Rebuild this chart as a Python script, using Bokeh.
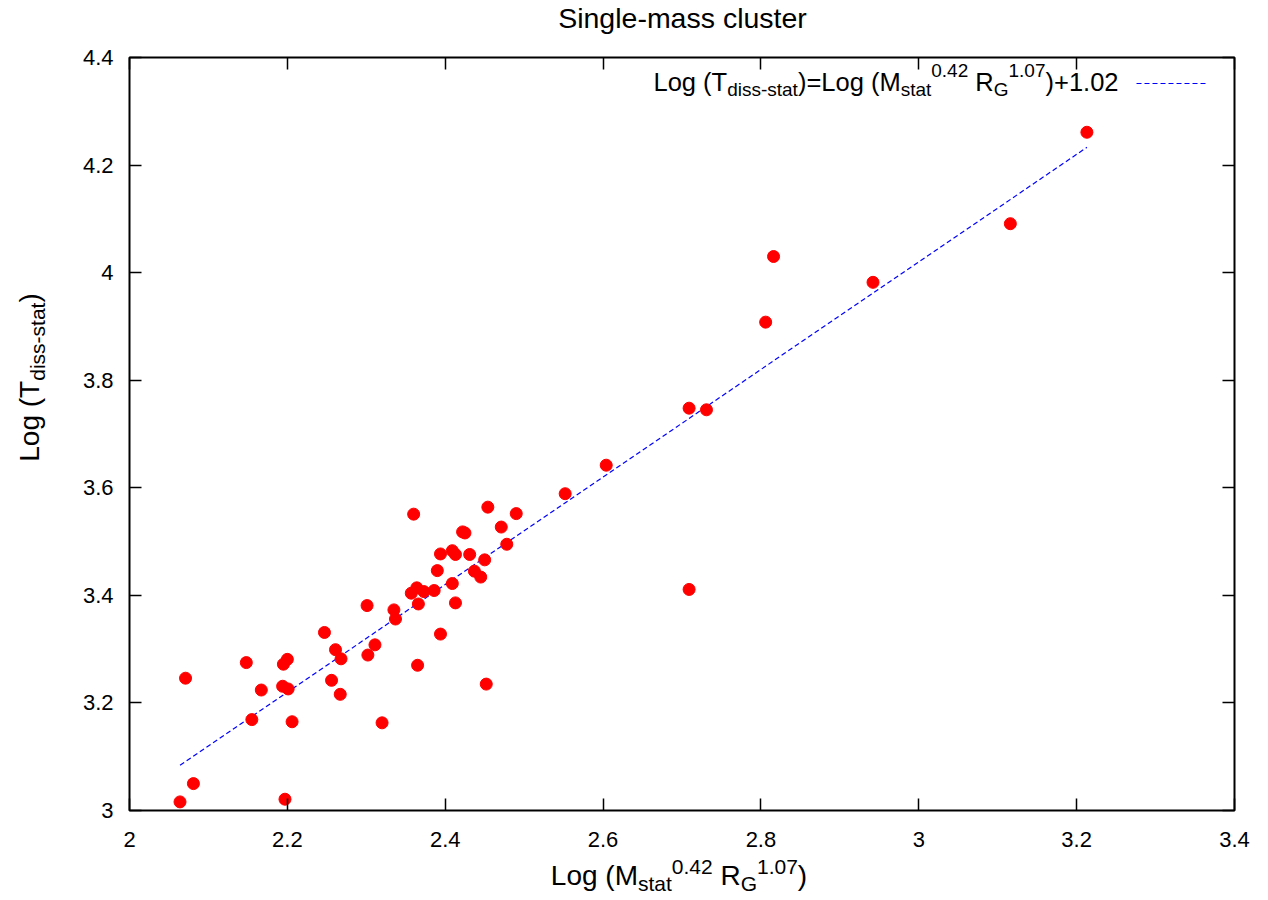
import math
from bokeh.plotting import figure
from bokeh.models import Range1d, LinearAxis, FixedTicker, CustomJSTickFormatter, Label, Arrow
from bokeh.layouts import column, row
from bokeh.embed import file_html
from bokeh.resources import INLINE

# ---- data ----
x_vals = [2.071, 2.148, 2.195, 2.200, 2.167, 2.194, 2.201, 2.155, 2.206, 2.247,
          2.261, 2.268, 2.256, 2.267, 2.302, 2.311, 2.320, 2.365, 2.337, 2.081,
          2.064, 2.197, 2.360, 2.454, 2.490, 2.471, 2.422, 2.425, 2.478, 2.394,
          2.409, 2.413, 2.431, 2.450, 2.390, 2.437, 2.445, 2.409, 2.357, 2.364,
          2.373, 2.386, 2.366, 2.413, 2.301, 2.335, 2.394, 2.452, 2.709, 2.731,
          2.604, 2.552, 2.709, 2.816, 2.806, 2.942, 3.116, 3.213]
y_vals = [3.246, 3.275, 3.272, 3.281, 3.224, 3.231, 3.226, 3.169, 3.165, 3.331,
          3.299, 3.282, 3.242, 3.216, 3.289, 3.308, 3.163, 3.270, 3.356, 3.050,
          3.016, 3.021, 3.551, 3.564, 3.552, 3.527, 3.518, 3.516, 3.495, 3.477,
          3.483, 3.476, 3.476, 3.466, 3.446, 3.445, 3.434, 3.422, 3.404, 3.414,
          3.407, 3.409, 3.384, 3.386, 3.381, 3.373, 3.328, 3.235, 3.748, 3.745,
          3.642, 3.589, 3.411, 4.030, 3.908, 3.982, 4.091, 4.261]
fit_intercept = 1.02
x_ticks = [2.0, 2.2, 2.4, 2.6, 2.8, 3.0, 3.2, 3.4]
y_ticks = [3.0, 3.2, 3.4, 3.6, 3.8, 4.0, 4.2, 4.4]

fit_x = [min(x_vals), max(x_vals)]
fit_y = [v + fit_intercept for v in fit_x]

FONT = "Liberation Sans"
TOTAL_W = 1268
TITLE_H = 40
YLAB_W = 59
XLAB_H = 45
FW, FH = 1105, 753
BL, BR, BT, BB = 70, 34, 17, 45
MAIN_H = BT + FH + BB

p = figure(frame_width=FW, frame_height=FH,
           min_border_left=BL, min_border_right=BR,
           min_border_top=BT, min_border_bottom=BB,
           x_range=Range1d(2.0, 3.4), y_range=Range1d(3.0, 4.4),
           output_backend="svg", toolbar_location=None,
           x_axis_location=None, y_axis_location=None)
p.background_fill_color = "white"
p.border_fill_color = "white"
p.grid.visible = False
p.outline_line_color = "black"
p.outline_line_width = 2

fmt = CustomJSTickFormatter(code="return String(Math.round(tick*10)/10);")
blank = CustomJSTickFormatter(code="return '';")

def style_axis(ax, ticks, formatter, standoff):
    ax.ticker = FixedTicker(ticks=ticks)
    ax.formatter = formatter
    ax.axis_line_color = None
    ax.major_tick_in = 12
    ax.major_tick_out = 0
    ax.major_tick_line_color = "black"
    ax.major_tick_line_width = 1.5
    ax.minor_tick_line_color = None
    ax.major_label_standoff = standoff
    ax.major_label_text_font = FONT
    ax.major_label_text_font_size = "22px"
    ax.major_label_text_color = "black"

bx = LinearAxis(); style_axis(bx, x_ticks, fmt, 21); p.add_layout(bx, "below")
ly = LinearAxis(); style_axis(ly, y_ticks, fmt, 16); p.add_layout(ly, "left")
tx = LinearAxis(); style_axis(tx, x_ticks, blank, 0); p.add_layout(tx, "above")
ry = LinearAxis(); style_axis(ry, y_ticks, blank, 0); p.add_layout(ry, "right")

p.line(fit_x, fit_y, line_color="#0000ff", line_width=1.2, line_dash="5 3")
p.scatter(x_vals, y_vals, size=12, fill_color="#ff0000", line_color="#ff0000")

def text_fig(w, h):
    f = figure(width=w, height=h, min_border=0, toolbar_location=None,
               output_backend="svg", x_range=Range1d(0, w), y_range=Range1d(0, h),
               x_axis_location=None, y_axis_location=None)
    f.outline_line_color = None
    f.grid.visible = False
    f.background_fill_color = "white"
    f.border_fill_color = "white"
    return f

# ---- rich text helpers (frame-relative screen coordinates) ----
W = {'L': .556, 'o': .556, 'g': .556, ' ': .278, '(': .333, ')': .333, 'T': .611,
     'M': .833, 'R': .722, 'G': .778, 'd': .556, 'i': .222, 's': .5, '-': .333,
     't': .278, 'a': .556, '=': .584, '+': .584, '.': .278}
def tw(s, size):
    return sum(W.get(c, .556) for c in s) * size

def rich(fig, pieces, x0, y0, f, angle=0.0, sup_shift=0.45):
    s = round(f * 0.75)
    pos = 0.0
    for txt, kind in pieces:
        size = f if kind == "n" else s
        lead = len(txt) - len(txt.lstrip(" "))
        pos += lead * W[' '] * size
        txt = txt.lstrip(" ")
        shift = 0.0
        if kind == "sub":
            shift = -0.3 * f
        elif kind == "sup":
            shift = sup_shift * f
        if angle == 0.0:
            lx, ly_ = x0 + pos, y0 + shift
        else:
            lx, ly_ = x0 - shift, y0 + pos
        fig.add_layout(Label(x=lx, y=ly_, x_units="screen", y_units="screen",
                             text=txt, angle=angle, text_font=FONT,
                             text_font_size=f"{size}px", text_color="black",
                             text_align="left", text_baseline="alphabetic"))
        pos += tw(txt, size)

def rich_width(pieces, f):
    s = round(f * 0.75)
    return sum(tw(t, f if k == "n" else s) for t, k in pieces)

# title
tf = text_fig(TOTAL_W, TITLE_H)
tf.add_layout(Label(x=682, y=23, x_units="screen", y_units="screen",
                    text="Single-mass cluster", text_font=FONT, text_font_size="28.5px",
                    text_color="black", text_align="center", text_baseline="alphabetic"))

# x axis label
xl = text_fig(TOTAL_W, XLAB_H)
xlab = [("Log (M", "n"), ("stat", "sub"), ("0.42", "sup"), (" R", "n"),
        ("G", "sub"), ("1.07", "sup"), (")", "n")]
xf = 28
rich(xl, xlab, 678.5 - rich_width(xlab, xf) / 2, 25, xf, sup_shift=0.3)

# y axis label (rotated)
yl = text_fig(YLAB_W, MAIN_H)
ylab = [("Log (T", "n"), ("diss-stat", "sub"), (")", "n")]
yf = 28
rich(yl, ylab, 29, (MAIN_H - (380 - TITLE_H)) - 42 - rich_width(ylab, yf) / 2, yf,
     angle=math.pi / 2)

# legend (inside the frame)
leg = [("Log (T", "n"), ("diss-stat", "sub"), (")=Log (M", "n"), ("stat", "sub"),
       ("0.42", "sup"), (" R", "n"), ("G", "sub"), ("1.07", "sup"), (")+1.02", "n")]
lf = 25.5
rich(p, leg, 989 - rich_width(leg, lf), 729, lf)
p.add_layout(Arrow(end=None, x_start=1007, y_start=727, x_end=1076, y_end=727,
                   start_units="screen", end_units="screen",
                   line_color="#0000ff", line_width=1.2, line_dash="5 3"))

layout = column(tf, row(yl, p), xl)
open("out.html", "w").write(file_html(layout, INLINE))
